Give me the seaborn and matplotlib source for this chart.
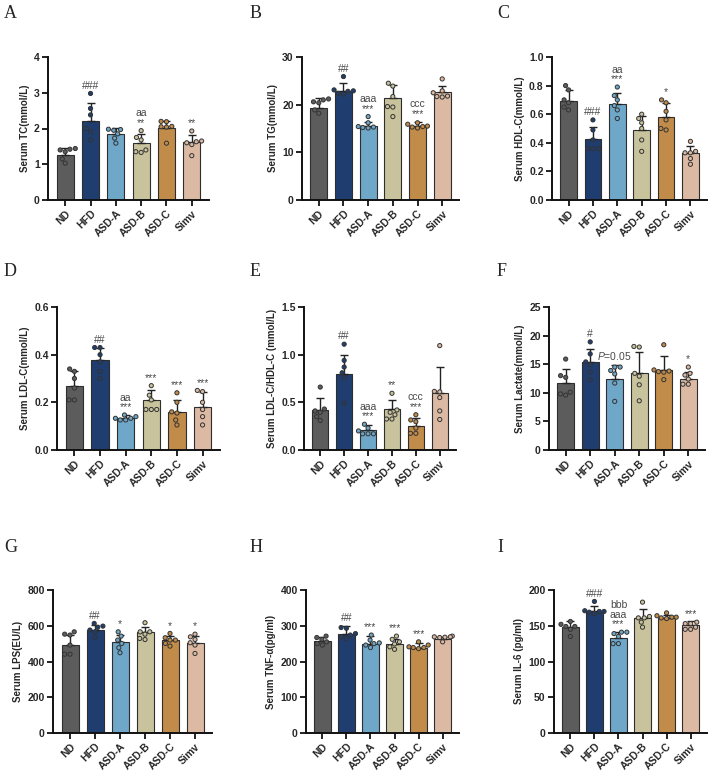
import numpy as np
import pandas as pd
import matplotlib
matplotlib.use("Agg")
import matplotlib.pyplot as plt
import seaborn as sns

sns.set_style("white")
plt.rcParams["font.family"] = ["Liberation Sans", "DejaVu Sans"]
plt.rcParams["mathtext.fontset"] = "custom"
plt.rcParams["mathtext.it"] = "Liberation Sans:italic"

groups = ["ND", "HFD", "ASD-A", "ASD-B", "ASD-C", "Simv"]
colors = ["#5c5c5c", "#1f3e6f", "#6ea7c8", "#c8c39c", "#c18b49", "#dbb9a3"]

# ---- A: TC ----
tc_mean = [1.26, 2.22, 1.86, 1.60, 2.02, 1.63]
tc_sd = [0.19, 0.50, 0.15, 0.25, 0.19, 0.19]
tc_pts = [[1.44, 1.42, 1.40, 1.35, 1.15, 1.03],
          [2.98, 2.56, 2.38, 2.00, 1.91, 1.68],
          [1.98, 1.97, 1.95, 1.85, 1.73, 1.59],
          [1.94, 1.75, 1.68, 1.40, 1.35, 1.33],
          [2.20, 2.19, 2.06, 2.05, 2.04, 1.59],
          [1.93, 1.65, 1.63, 1.60, 1.55, 1.24]]
tc_sig = ["", "###", "", "aa\n**", "", "**"]

# ---- B: TG ----
tg_mean = [19.4, 22.8, 15.5, 21.3, 15.6, 22.6]
tg_sd = [2.1, 1.7, 0.9, 2.8, 0.8, 1.4]
tg_pts = [[21.2, 21.0, 20.6, 20.4, 18.9, 18.2],
          [25.9, 23.1, 22.9, 22.8, 22.4, 22.2],
          [17.5, 16.2, 15.4, 15.3, 15.2, 15.1],
          [24.5, 23.9, 21.7, 19.6, 19.5, 17.5],
          [16.2, 15.9, 15.5, 15.4, 15.3, 15.1],
          [25.4, 22.9, 22.5, 21.8, 21.7, 21.6]]
tg_sig = ["", "##", "aaa\n***", "", "ccc\n***", ""]

# ---- C: HDL-C ----
hdl_mean = [0.69, 0.43, 0.67, 0.49, 0.58, 0.33]
hdl_sd = [0.08, 0.08, 0.08, 0.10, 0.10, 0.05]
hdl_pts = [[0.80, 0.77, 0.70, 0.68, 0.65, 0.63],
           [0.56, 0.49, 0.42, 0.36, 0.36, 0.36],
           [0.79, 0.73, 0.70, 0.66, 0.63, 0.57],
           [0.60, 0.57, 0.54, 0.50, 0.42, 0.34],
           [0.70, 0.68, 0.62, 0.56, 0.50, 0.49],
           [0.41, 0.34, 0.33, 0.33, 0.29, 0.25]]
hdl_sig = ["", "###", "aa\n***", "", "*", ""]

# ---- D: LDL-C ----
ldl_mean = [0.27, 0.377, 0.136, 0.21, 0.16, 0.18]
ldl_sd = [0.06, 0.053, 0.011, 0.04, 0.05, 0.065]
ldl_pts = [[0.34, 0.33, 0.30, 0.26, 0.21, 0.21],
           [0.43, 0.43, 0.40, 0.37, 0.33, 0.30],
           [0.147, 0.14, 0.133, 0.133, 0.126, 0.126],
           [0.27, 0.23, 0.21, 0.17, 0.17, 0.17],
           [0.24, 0.20, 0.16, 0.155, 0.126, 0.105],
           [0.25, 0.245, 0.20, 0.17, 0.14, 0.105]]
ldl_sig = ["", "##", "aa\n***", "***", "***", "***"]

# ---- E: LDL-C/HDL-C ----
ratio_mean = [0.42, 0.80, 0.213, 0.43, 0.255, 0.60]
ratio_sd = [0.126, 0.20, 0.053, 0.095, 0.081, 0.27]
ratio_pts = [[0.66, 0.43, 0.41, 0.395, 0.35, 0.31],
             [1.11, 0.94, 0.87, 0.81, 0.76, 0.49],
             [0.27, 0.23, 0.20, 0.17, 0.17, 0.17],
             [0.595, 0.42, 0.395, 0.37, 0.325, 0.325],
             [0.37, 0.315, 0.297, 0.23, 0.175, 0.175],
             [1.095, 0.615, 0.61, 0.55, 0.41, 0.32]]
ratio_sig = ["", "##", "aaa\n***", "**", "ccc\n***", ""]

# ---- F: Lactate ----
lac_mean = [11.7, 15.4, 12.4, 13.4, 14.0, 12.4]
lac_sd = [2.5, 2.2, 2.5, 3.8, 2.4, 1.3]
lac_pts = [[15.9, 13.0, 12.7, 10.1, 9.8, 9.6],
           [18.9, 16.8, 15.4, 14.9, 13.6, 12.3],
           [14.5, 14.5, 13.9, 13.3, 11.7, 8.5],
           [18.1, 18.0, 13.4, 12.9, 11.4, 8.6],
           [18.4, 14.0, 13.8, 13.7, 13.6, 12.3],
           [14.5, 13.4, 13.1, 12.4, 11.5, 11.5]]
lac_sig = ["", "#", r"$\it{P}$=0.05", "", "", "*"]

# ---- G: LPS ----
lps_mean = [495, 574, 507, 566, 520, 505]
lps_sd = [53, 30, 41, 25, 24, 37]
lps_pts = [[566, 553, 548, 492, 441, 441],
           [613, 598, 591, 576, 566, 535],
           [566, 542, 520, 501, 477, 449],
           [617, 566, 566, 553, 529, 523],
           [557, 533, 520, 520, 501, 486],
           [553, 538, 523, 505, 492, 445]]
lps_sig = ["", "##", "*", "", "*", "*"]

# ---- H: TNF-a ----
tnf_mean = [258, 278, 250, 250, 239, 264]
tnf_sd = [10, 22, 21, 14, 13, 4]
tnf_pts = [[271, 267, 262, 255, 250, 246],
           [295, 293, 278, 274, 269, 264],
           [274, 260, 252, 250, 246, 239],
           [271, 262, 255, 249, 241, 234],
           [255, 246, 241, 239, 239, 236],
           [271, 269, 269, 268, 267, 255]]
tnf_sig = ["", "##", "***", "***", "***", ""]

# ---- I: IL-6 ----
il6_mean = [148, 170, 133, 161, 161, 151]
il6_sd = [8, 7, 8, 12, 4, 5]
il6_pts = [[156, 152, 149, 149, 145, 135],
           [184, 171, 170, 170, 169, 167],
           [141, 141, 139, 135, 125, 125],
           [183, 163, 161, 161, 155, 148],
           [168, 164, 162, 162, 161, 160],
           [155, 153, 153, 148, 145, 145]]
il6_sig = ["", "###", "bbb\naaa\n***", "", "", "***"]

ylabels = ["Serum TC(mmol/L)", "Serum TG(mmol/L)", "Serum HDL-C(mmol/L)",
           "Serum LDL-C(mmol/L)", "Serum LDL-C/HDL-C (mmol/L)", "Serum Lactate(mmol/L)",
           "Serum LPS(EU/L)", "Serum TNF-\u03b1(pg/ml)", "Serum IL-6 (pg/ml)"]
yticks = [[0, 1, 2, 3, 4], [0, 10, 20, 30], [0.0, 0.2, 0.4, 0.6, 0.8, 1.0],
          [0.0, 0.2, 0.4, 0.6], [0.0, 0.5, 1.0, 1.5], [0, 5, 10, 15, 20, 25],
          [0, 200, 400, 600, 800], [0, 100, 200, 300, 400], [0, 50, 100, 150, 200]]
yfmt = ["%d", "%d", "%.1f", "%.1f", "%.1f", "%d", "%d", "%d", "%d"]
letters = ["A", "B", "C", "D", "E", "F", "G", "H", "I"]

means = [tc_mean, tg_mean, hdl_mean, ldl_mean, ratio_mean, lac_mean, lps_mean, tnf_mean, il6_mean]
sds = [tc_sd, tg_sd, hdl_sd, ldl_sd, ratio_sd, lac_sd, lps_sd, tnf_sd, il6_sd]
pts = [tc_pts, tg_pts, hdl_pts, ldl_pts, ratio_pts, lac_pts, lps_pts, tnf_pts, il6_pts]
sigs = [tc_sig, tg_sig, hdl_sig, ldl_sig, ratio_sig, lac_sig, lps_sig, tnf_sig, il6_sig]

W, H = 709, 772
fig = plt.figure(figsize=(W / 100, H / 100), dpi=100)

# axes pixel boxes: (x_left, x_right, y_top, y_bottom)
boxes = [(48, 209, 57, 200), (302, 459, 57, 200), (552, 707, 57, 200),
         (57, 220, 307, 450), (304, 456, 307, 450), (549, 705, 307, 450),
         (53, 212, 590, 733), (306, 459, 590, 733), (554, 707, 590, 733)]
letter_pos = [(4, 18), (250, 18), (497, 18), (4, 276), (250, 276), (497, 276),
              (4, 552), (250, 552), (497, 552)]

for k in range(9):
    x0, x1, yt, yb = boxes[k]
    ax = fig.add_axes([x0 / W, 1 - yb / H, (x1 - x0) / W, (yb - yt) / H])
    bar_df = pd.DataFrame({"group": groups, "value": means[k]})
    sns.barplot(data=bar_df, x="group", y="value", hue="group", order=groups,
                hue_order=groups, palette=colors, legend=False, errorbar=None,
                width=0.68, edgecolor="#2e2e2e", linewidth=0.8, saturation=1, ax=ax)
    xs = np.arange(len(groups))
    ax.errorbar(xs, means[k], yerr=[np.zeros(len(groups)), sds[k]], fmt="none",
                ecolor="#222222", elinewidth=1.0, capsize=2.8, capthick=1.0, zorder=3)
    long = pd.DataFrame({"group": np.repeat(groups, [len(p) for p in pts[k]]),
                         "value": np.concatenate(pts[k])})
    sns.swarmplot(data=long, x="group", y="value", hue="group", order=groups,
                  hue_order=groups, palette=colors, legend=False, size=3.0,
                  edgecolor="#333333", linewidth=0.7, ax=ax, zorder=4)
    for i, s in enumerate(sigs[k]):
        if not s:
            continue
        top = max(means[k][i] + sds[k][i], max(pts[k][i]))
        ax.annotate(s, (i, top), xytext=(0, 2), textcoords="offset points",
                    ha="center", va="bottom", fontsize=7.5, color="#4a4a4a",
                    linespacing=0.95, zorder=5)
    ax.set_xlim(-0.68, 5.68)
    ax.set_ylim(yticks[k][0], yticks[k][-1])
    ax.set_yticks(yticks[k])
    ax.set_yticklabels([yfmt[k] % v for v in yticks[k]], fontsize=7.5, fontweight="bold")
    ax.set_xticks(xs)
    ax.set_xticklabels(groups, rotation=45, ha="right", rotation_mode="anchor",
                       fontsize=7.5, fontweight="bold")
    ax.set_xlabel("")
    ax.set_ylabel(ylabels[k], fontsize=7, fontweight="bold", labelpad=3)
    for sp in ["top", "right"]:
        ax.spines[sp].set_visible(False)
    for sp in ["left", "bottom"]:
        ax.spines[sp].set_linewidth(1.4)
        ax.spines[sp].set_color("#111111")
    ax.tick_params(axis="both", direction="out", length=4, width=1.3, color="#111111",
                   pad=2, left=True, bottom=True)
    ax.set_facecolor("white")
    lx, ly = letter_pos[k]
    fig.text(lx / W, 1 - ly / H, letters[k], fontsize=13, family="Liberation Serif",
             ha="left", va="baseline")

fig.savefig("out.png", dpi=100, facecolor="white")
